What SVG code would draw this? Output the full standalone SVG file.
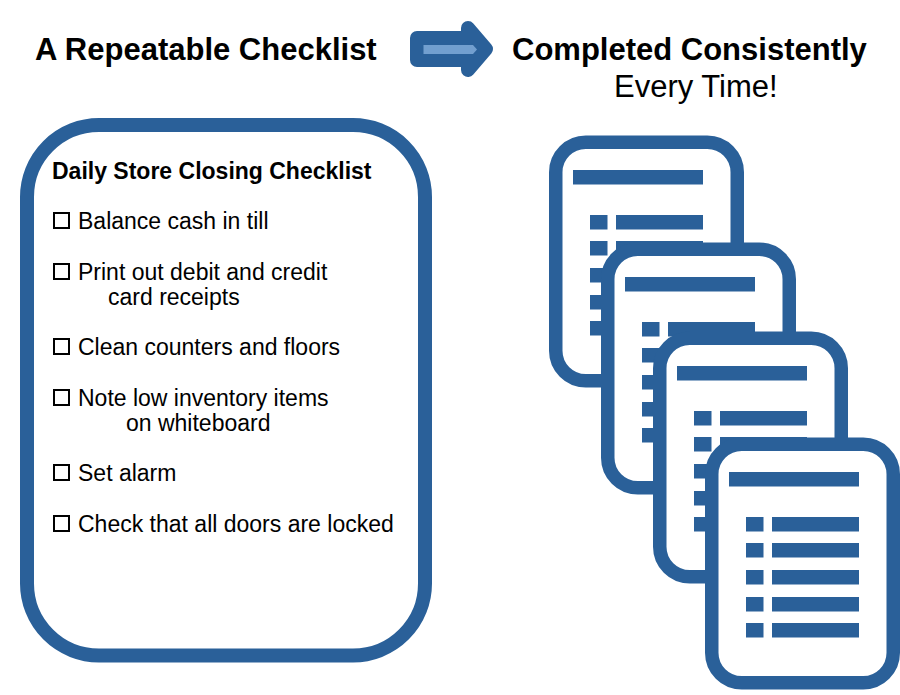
<svg xmlns="http://www.w3.org/2000/svg" xmlns:xlink="http://www.w3.org/1999/xlink" width="900" height="695" viewBox="0 0 900 695">
<style>
text{font-family:"Liberation Sans",Arial,sans-serif;fill:#000}
.t{font-size:31px;font-weight:bold}
.s{font-size:31px}
.h{font-size:23px;font-weight:bold}
.i{font-size:23px}
.c{fill:none;stroke:#000;stroke-width:2}
.d{fill:#fff;stroke:#2a6099;stroke-width:13.5}
.b{fill:#2a6099}
</style>
<defs>
<g id="doc">
<rect class="d" x="555.75" y="142.25" width="181.5" height="238.5" rx="30" ry="30"/>
<rect class="b" x="573" y="170" width="130" height="14.5"/>
<rect class="b" x="590" y="215" width="17.5" height="14.5"/>
<rect class="b" x="616" y="215" width="87" height="14.5"/>
<rect class="b" x="590" y="241" width="17.5" height="14.5"/>
<rect class="b" x="616" y="241" width="87" height="14.5"/>
<rect class="b" x="590" y="268" width="17.5" height="14.5"/>
<rect class="b" x="616" y="268" width="87" height="14.5"/>
<rect class="b" x="590" y="295" width="17.5" height="14.5"/>
<rect class="b" x="616" y="295" width="87" height="14.5"/>
<rect class="b" x="590" y="321" width="17.5" height="14.5"/>
<rect class="b" x="616" y="321" width="87" height="14.5"/>
</g>
</defs>
<g id="title-left"><text class="t" x="35" y="60">A Repeatable Checklist</text></g>
<g id="arrow">
<path d="M417 38H468V28L486 49L468 70V60H417Z" fill="#2a6099" stroke="#2a6099" stroke-width="14" stroke-linejoin="round"/>
<path d="M423.500 45H473L477 49.500L473 54H423.500Z" fill="#729fcf"/>
</g>
<g id="title-right">
<text class="t" x="512" y="60">Completed Consistently</text>
<text class="s" x="614" y="97">Every Time!</text>
</g>
<g id="checklist">
<rect x="27" y="125" width="398" height="530.500" rx="72" ry="72" fill="#fff" stroke="#2a6099" stroke-width="14"/>
<text class="h" x="52" y="179">Daily Store Closing Checklist</text>
<rect class="c" x="54" y="213" width="15" height="15"/>
<text class="i" x="78" y="229">Balance cash in till</text>
<rect class="c" x="54" y="264" width="15" height="15"/>
<text class="i" x="78" y="280">Print out debit and credit</text>
<text class="i" x="108" y="305">card receipts</text>
<rect class="c" x="54" y="339" width="15" height="15"/>
<text class="i" x="78" y="355">Clean counters and floors</text>
<rect class="c" x="54" y="390" width="15" height="15"/>
<text class="i" x="78" y="406">Note low inventory items</text>
<text class="i" x="126" y="431">on whiteboard</text>
<rect class="c" x="54" y="465" width="15" height="15"/>
<text class="i" x="78" y="481">Set alarm</text>
<rect class="c" x="54" y="516" width="15" height="15"/>
<text class="i" x="78" y="532">Check that all doors are locked</text>
</g>
<g id="doc-1"><use href="#doc"/></g>
<g id="doc-2"><use href="#doc" x="52" y="107"/></g>
<g id="doc-3"><use href="#doc" x="104" y="196"/></g>
<g id="doc-4"><use href="#doc" x="156" y="302"/></g>
</svg>
